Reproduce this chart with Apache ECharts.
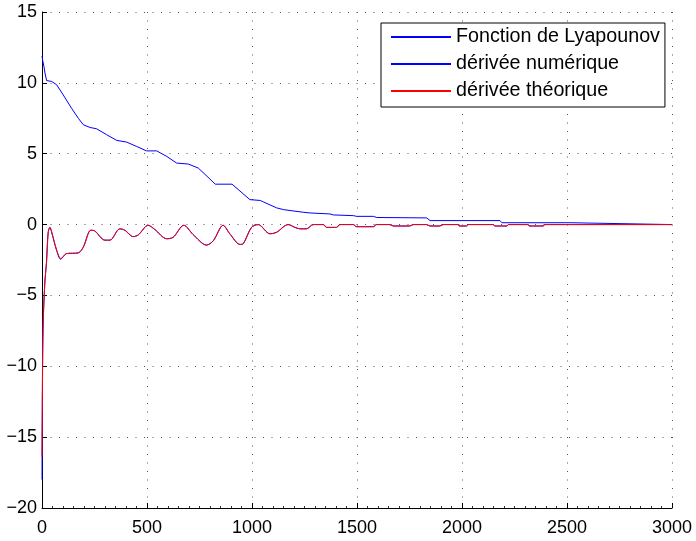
<!DOCTYPE html>
<html>
<head>
<meta charset="utf-8">
<script src="https://cdn.jsdelivr.net/npm/echarts@6/dist/echarts.min.js"></script>
<style>
html,body{margin:0;padding:0;background:#fff;}
#c{width:696px;height:541px;}
</style>
</head>
<body>
<div id="c"></div>
<script>
// ---- Data ----
const seriesNames = ['Fonction de Lyapounov', 'dérivée numérique', 'dérivée théorique'];

const lyapX = [0, 3, 10, 14, 22, 46, 70, 101, 141, 173, 197, 229, 260, 308, 356, 403, 451, 498, 546, 594, 641, 697, 744, 790, 825, 905, 990, 1040, 1054, 1117, 1149, 1181, 1244, 1276, 1371, 1387, 1483, 1498, 1578, 1594, 1832, 1848, 2181, 2190, 2514, 2520, 3000];
const lyapY = [11.9, 11.6, 11.1, 10.7, 10.16, 10.1, 9.86, 9.15, 8.2, 7.5, 7.04, 6.85, 6.76, 6.34, 5.94, 5.82, 5.51, 5.2, 5.2, 4.81, 4.34, 4.27, 3.99, 3.35, 2.85, 2.85, 1.76, 1.7, 1.6, 1.18, 1.06, 0.99, 0.87, 0.82, 0.75, 0.68, 0.63, 0.58, 0.58, 0.5, 0.47, 0.28, 0.28, 0.13, 0.13, 0, 0];

const theoX = [0, 3, 6, 14, 22, 30, 38, 46, 70, 90, 117, 173, 197, 233, 252, 300, 324, 371, 395, 435, 459, 506, 538, 594, 625, 676, 720, 784, 816, 863, 895, 943, 959, 998, 1030, 1086, 1117, 1173, 1205, 1229, 1260, 1292, 1340, 1356, 1403, 1419, 1483, 1498, 1578, 1594, 1657, 1673, 1752, 1768, 1832, 1848, 1895, 1911, 1983, 1987, 2022, 2030, 2149, 2157, 2214, 2222, 2316, 2320, 2387, 2395, 3000];
const theoY = [-16.4, -10, -6.8, -4, -2.6, -0.5, -0.2, -0.5, -1.8, -2.4, -2.05, -2.0, -1.6, -0.4, -0.45, -1.1, -1.1, -0.3, -0.4, -0.85, -0.73, -0.05, -0.35, -1.0, -0.9, -0.05, -0.7, -1.45, -1.15, -0.05, -0.65, -1.4, -1.35, -0.2, 0, -0.65, -0.55, 0, -0.2, -0.3, -0.3, 0, 0, -0.2, -0.2, 0, 0, -0.15, -0.15, 0, 0, -0.1, -0.1, 0, 0, -0.1, -0.1, 0, 0, -0.1, -0.1, 0, 0, -0.1, -0.1, 0, 0, -0.1, -0.1, 0, 0];

const numX = [0, 2, 5, 13, 21, 29, 37, 45, 69, 89, 116, 172, 196, 232, 251, 299, 323, 370, 394, 434, 458, 505, 537, 593, 624, 675, 719, 783, 815, 862, 894, 942, 958, 997, 1029, 1085, 1116, 1172, 1204, 1228, 1259, 1291, 1339, 1355, 1402, 1418, 1482, 1497, 1577, 1593, 1656, 1672, 1751, 1767, 1831, 1847, 1894, 1910, 1982, 1986, 2021, 2029, 2148, 2156, 2213, 2221, 2315, 2319, 2386, 2394, 3000];
const numY = [-18.0, -11, -7.2, -4.2, -2.7, -0.6, -0.2, -0.5, -1.8, -2.45, -2.05, -2.0, -1.6, -0.4, -0.45, -1.1, -1.1, -0.3, -0.4, -0.85, -0.73, -0.05, -0.35, -1.0, -0.9, -0.05, -0.7, -1.45, -1.15, -0.05, -0.65, -1.4, -1.35, -0.2, 0, -0.65, -0.55, 0, -0.2, -0.3, -0.3, 0, 0, -0.2, -0.2, 0, 0, -0.15, -0.15, 0, 0, -0.1, -0.1, 0, 0, -0.1, -0.1, 0, 0, -0.1, -0.1, 0, 0, -0.1, -0.1, 0, 0, -0.1, -0.1, 0, 0];

const xTicks = [0, 500, 1000, 1500, 2000, 2500, 3000];
const yTicks = [-20, -15, -10, -5, 0, 5, 10, 15];

function pairs(xs, ys) { return xs.map((x, i) => [x, ys[i]]); }
function fmt(v) { return v < 0 ? '\u2212' + Math.abs(v) : String(v); }

const chart = echarts.init(document.getElementById('c'), null, {renderer: 'canvas'});
const gridLine = {show: true, lineStyle: {color: '#555', width: 1, type: [1, 7.5]}};
chart.setOption({
  animation: false,
  backgroundColor: '#fff',
  grid: {left: 42, right: 24, top: 12, bottom: 33, containLabel: false},
  xAxis: {
    type: 'value', min: xTicks[0], max: xTicks[xTicks.length - 1], interval: 500,
    axisLine: {show: true, onZero: false, lineStyle: {color: '#000', width: 1}},
    axisTick: {show: true, inside: true, length: 5, lineStyle: {color: '#000'}},
    minorTick: {show: true, splitNumber: 10, length: 2, lineStyle: {color: '#333'}},
    axisLabel: {show: true, margin: 11, color: '#000', fontFamily: 'Liberation Sans, Arial, sans-serif', fontSize: 18,
      showMinLabel: true, showMaxLabel: true, formatter: fmt},
    splitLine: gridLine
  },
  yAxis: {
    type: 'value', min: yTicks[0], max: yTicks[yTicks.length - 1], interval: 5,
    axisLine: {show: true, onZero: false, lineStyle: {color: '#000', width: 1}},
    axisTick: {show: true, inside: true, length: 5, lineStyle: {color: '#000'}},
    axisLabel: {show: true, margin: 5, color: '#000', fontFamily: 'Liberation Sans, Arial, sans-serif', fontSize: 18,
      showMinLabel: true, showMaxLabel: true, formatter: fmt},
    splitLine: gridLine
  },
  legend: {
    orient: 'vertical', left: 381, top: 23,
    data: seriesNames,
    backgroundColor: '#fff', borderColor: '#000', borderWidth: 1, borderRadius: 0,
    padding: [4, 5, 6, 10],
    itemWidth: 60, itemHeight: 2, itemGap: 7,
    icon: 'rect',
    textStyle: {fontFamily: 'Liberation Sans, Arial, sans-serif', fontSize: 19.7, color: '#000', lineHeight: 20}
  },
  series: [
    {name: seriesNames[0], type: 'line', data: pairs(lyapX, lyapY), showSymbol: false, symbol: 'none',
      lineStyle: {color: '#0000ff', width: 1}, itemStyle: {color: '#0000ff'}},
    {name: seriesNames[1], type: 'line', data: pairs(numX, numY), showSymbol: false, symbol: 'none', smooth: 0.3,
      lineStyle: {color: '#0000ff', width: 1}, itemStyle: {color: '#0000ff'}},
    {name: seriesNames[2], type: 'line', data: pairs(theoX, theoY), showSymbol: false, symbol: 'none', smooth: 0.3,
      lineStyle: {color: '#ff0000', width: 1}, itemStyle: {color: '#ff0000'}}
  ]
});
</script>
</body>
</html>
